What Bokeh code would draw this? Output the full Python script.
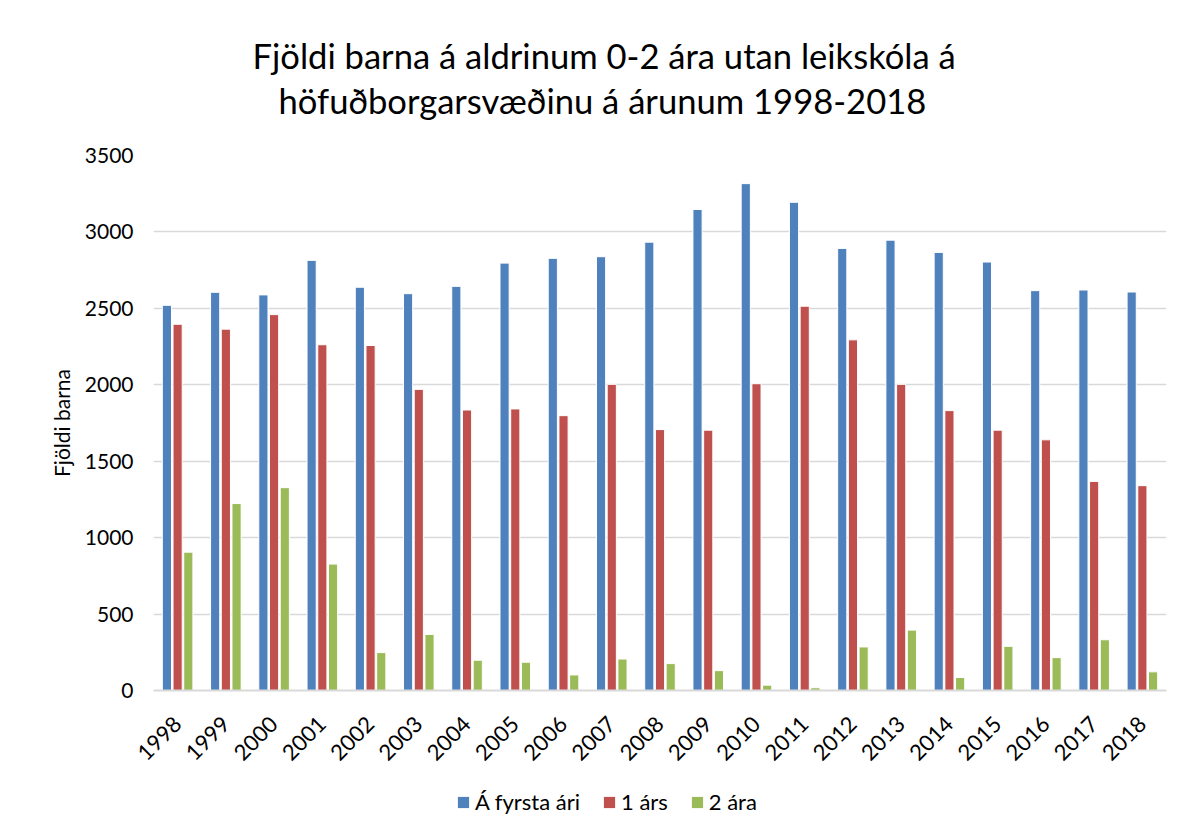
import math
from bokeh.plotting import figure
from bokeh.layouts import column
from bokeh.models import FactorRange, Range1d, FixedTicker, Legend, LegendItem, Title, ColumnDataSource
from bokeh.transform import dodge
from bokeh.embed import file_html
from bokeh.resources import INLINE

years = [str(y) for y in range(1998, 2019)]
fyrsta_ari = [2520, 2605, 2588, 2814, 2638, 2596, 2644, 2796, 2827, 2838, 2933,
              3147, 3316, 3194, 2892, 2946, 2866, 2803, 2616, 2620, 2607]
eins_ars = [2396, 2364, 2459, 2262, 2257, 1970, 1835, 1842, 1798, 2003, 1707,
            1703, 2007, 2514, 2294, 2003, 1831, 1703, 1640, 1368, 1340]
tveggja_ara = [905, 1223, 1327, 827, 248, 367, 198, 185, 102, 206, 176,
               130, 35, 18, 285, 395, 85, 289, 215, 332, 122]
series_names = ["Á fyrsta ári", "1 árs", "2 ára"]
y_ticks = [0, 500, 1000, 1500, 2000, 2500, 3000, 3500]
title_lines = ["Fjöldi barna á aldrinum 0-2 ára utan leikskóla á",
               "höfuðborgarsvæðinu á árunum 1998-2018"]

FONT = "Lato"
colors = ["#4F81BD", "#C0504D", "#9BBB59"]
cols = ["a", "b", "c"]

src = ColumnDataSource(dict(year=years, a=fyrsta_ari, b=eins_ars, c=tveggja_ara))
x_range = FactorRange(*years)

p = figure(x_range=x_range, y_range=Range1d(0, 3500),
           width=1174, height=770,
           output_backend="svg", toolbar_location=None,
           min_border_left=153, min_border_right=8, min_border_top=155, min_border_bottom=78)

p.add_layout(Title(text=" ", text_font_size="30px", standoff=0), "above")
p.add_layout(Title(text=title_lines[1], align="left", offset=125, text_font=FONT,
                   text_font_size="34.6px", text_font_style="normal", text_color="#000000",
                   standoff=0), "above")
p.add_layout(Title(text=title_lines[0], align="left", offset=99, text_font=FONT,
                   text_font_size="34.6px", text_font_style="normal", text_color="#000000",
                   standoff=4), "above")

off = 0.222
w = 0.19
offsets = [-off, 0, off]
for col, o, c in zip(cols, offsets, colors):
    p.vbar(x=dodge("year", o, range=x_range), top=col, width=w, source=src,
           fill_color=c, line_color="white", line_width=1)

p.outline_line_color = None
p.xgrid.grid_line_color = None
p.ygrid.grid_line_color = "#D9D9D9"
p.ygrid.grid_line_width = 1.5
p.yaxis.ticker = FixedTicker(ticks=y_ticks)

p.yaxis.axis_line_color = None
p.yaxis.major_tick_line_color = None
p.yaxis.minor_tick_line_color = None
p.yaxis.major_label_text_font = FONT
p.yaxis.major_label_text_font_size = "21px"
p.yaxis.major_label_text_color = "#000000"
p.yaxis.major_label_standoff = 14
p.yaxis.axis_label = "Fjöldi barna"
p.yaxis.axis_label_text_font = FONT
p.yaxis.axis_label_text_font_size = "21px"
p.yaxis.axis_label_text_font_style = "normal"
p.yaxis.axis_label_text_color = "#000000"
p.yaxis.axis_label_standoff = 8

p.xaxis.axis_line_color = "#D9D9D9"
p.xaxis.axis_line_width = 2
p.xaxis.major_tick_line_color = None
p.xaxis.minor_tick_line_color = None
p.xaxis.major_label_orientation = math.pi / 4
p.xaxis.major_label_text_font = FONT
p.xaxis.major_label_text_font_size = "22px"
p.xaxis.major_label_text_color = "#000000"
p.xaxis.major_label_standoff = 24

# legend strip below the chart: same series as hidden keys, only the legend shows
lg = figure(x_range=x_range, y_range=Range1d(-2, -1), width=1174, height=60,
            x_axis_type=None, y_axis_type=None,
            output_backend="svg", toolbar_location=None,
            min_border_left=0, min_border_right=0, min_border_top=0, min_border_bottom=0)
lg.outline_line_color = None
items = []
for col, o, c, name in zip(cols, offsets, colors, series_names):
    r = lg.vbar(x=dodge("year", o, range=x_range), top=col, bottom=col, width=w, source=src,
                fill_color=c, line_color=None)
    r.visible = False
    items.append(LegendItem(label=name, renderers=[r]))
legend = Legend(items=items, orientation="horizontal", location=(303, 15),
                label_text_font=FONT, label_text_font_size="22px", label_text_color="#000000",
                glyph_width=14, glyph_height=14, label_standoff=5, spacing=22,
                border_line_color=None, background_fill_alpha=0, margin=0, padding=0)
lg.add_layout(legend, "center")

layout = column(p, lg, spacing=0)
open("out.html", "w").write(file_html(layout, INLINE))
